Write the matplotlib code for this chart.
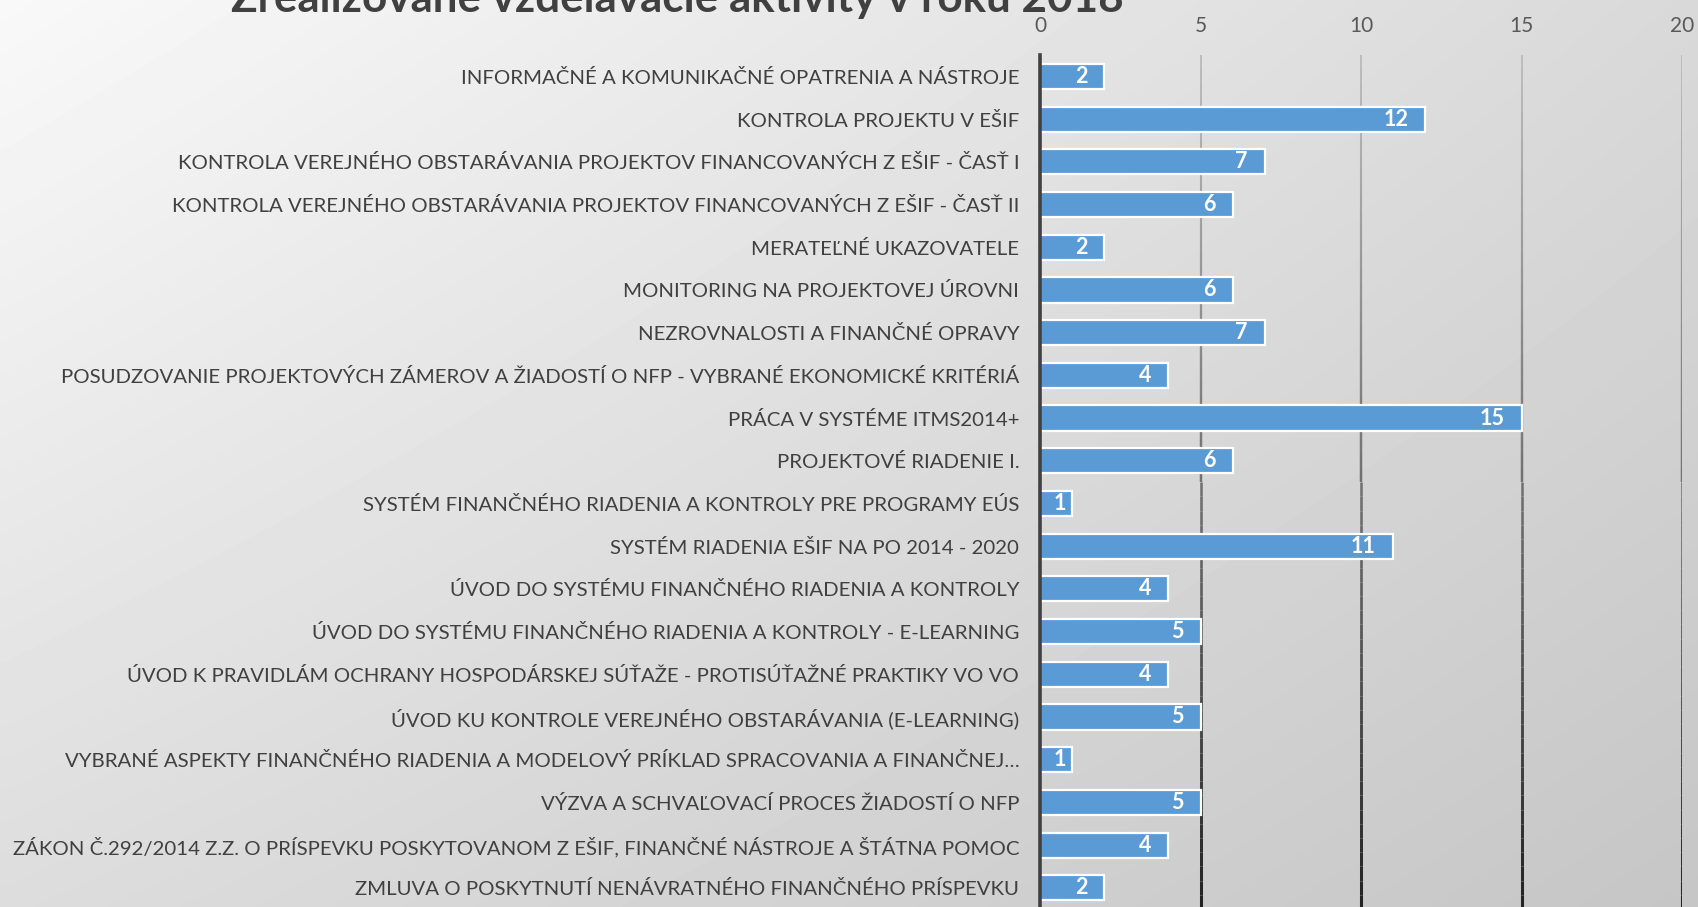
import numpy as np
import matplotlib
matplotlib.use('Agg')
import matplotlib.pyplot as plt
from matplotlib.collections import LineCollection

title = "Zrealizované vzdelávacie aktivity v roku 2018"
categories = [
    "INFORMAČNÉ A KOMUNIKAČNÉ OPATRENIA A NÁSTROJE",
    "KONTROLA PROJEKTU V EŠIF",
    "KONTROLA VEREJNÉHO OBSTARÁVANIA PROJEKTOV FINANCOVANÝCH Z EŠIF - ČASŤ I",
    "KONTROLA VEREJNÉHO OBSTARÁVANIA PROJEKTOV FINANCOVANÝCH Z EŠIF - ČASŤ II",
    "MERATEĽNÉ UKAZOVATELE",
    "MONITORING NA PROJEKTOVEJ ÚROVNI",
    "NEZROVNALOSTI A FINANČNÉ OPRAVY",
    "POSUDZOVANIE PROJEKTOVÝCH ZÁMEROV A ŽIADOSTÍ O NFP - VYBRANÉ EKONOMICKÉ KRITÉRIÁ",
    "PRÁCA V SYSTÉME ITMS2014+",
    "PROJEKTOVÉ RIADENIE I.",
    "SYSTÉM FINANČNÉHO RIADENIA A KONTROLY PRE PROGRAMY EÚS",
    "SYSTÉM RIADENIA EŠIF NA PO 2014 - 2020",
    "ÚVOD DO SYSTÉMU FINANČNÉHO RIADENIA A KONTROLY",
    "ÚVOD DO SYSTÉMU FINANČNÉHO RIADENIA A KONTROLY - E-LEARNING",
    "ÚVOD K PRAVIDLÁM OCHRANY HOSPODÁRSKEJ SÚŤAŽE - PROTISÚŤAŽNÉ PRAKTIKY VO VO",
    "ÚVOD KU KONTROLE VEREJNÉHO OBSTARÁVANIA (E-LEARNING)",
    "VYBRANÉ ASPEKTY FINANČNÉHO RIADENIA A MODELOVÝ PRÍKLAD SPRACOVANIA A FINANČNEJ…",
    "VÝZVA A SCHVAĽOVACÍ PROCES ŽIADOSTÍ O NFP",
    "ZÁKON Č.292/2014 Z.Z. O PRÍSPEVKU POSKYTOVANOM Z EŠIF, FINANČNÉ NÁSTROJE A ŠTÁTNA POMOC",
    "ZMLUVA O POSKYTNUTÍ NENÁVRATNÉHO FINANČNÉHO PRÍSPEVKU",
]
values = [2, 12, 7, 6, 2, 6, 7, 4, 15, 6, 1, 11, 4, 5, 4, 5, 1, 5, 4, 2]
xticks = [0, 5, 10, 15, 20]

plt.rcParams['font.family'] = ['Lato', 'DejaVu Sans']

W, H = 1698, 907
fig = plt.figure(figsize=(W / 100, H / 100), dpi=100)

# background gradient (light top-left to grey bottom-right)
bg = fig.add_axes([0, 0, 1, 1], zorder=-10)
gx = np.linspace(0, 1, 300)
gy = np.linspace(0, 1, 200)
X, Y = np.meshgrid(gx, gy)
tl, tr, bl, br = 0.975, 0.85, 0.865, 0.775
grad = tl * (1 - X) * (1 - Y) + tr * X * (1 - Y) + bl * (1 - X) * Y + br * X * Y
bg.imshow(grad, cmap='gray', vmin=0, vmax=1, extent=[0, 1, 1, 0], aspect='auto',
          interpolation='bilinear')
bg.set_xlim(0, 1)
bg.set_ylim(1, 0)
bg.axis('off')

ax = fig.add_axes([1040 / W, -0.0024, 642 / W, 0.9417])
ax.patch.set_alpha(0)
n = len(categories)
ypos = np.arange(n)
bars = ax.barh(ypos, values, height=0.59, color='#5B9BD5', edgecolor='white',
               linewidth=1.6, zorder=3)
ax.set_ylim(n - 0.5, -0.5)
ax.set_xlim(xticks[0], xticks[-1])
ax.xaxis.tick_top()
ax.set_xticks(xticks)
ax.tick_params(axis='x', length=0, pad=13.5, labelsize=15, labelcolor='#595959')
ax.set_yticks(ypos, categories)
ax.tick_params(axis='y', length=0, pad=15, labelsize=14.7, labelcolor='#404040')
for s in ['top', 'right', 'bottom']:
    ax.spines[s].set_visible(False)
ax.spines['left'].set_color('#404040')
ax.spines['left'].set_linewidth(2.6)
ax.spines['left'].set_zorder(5)

# gridlines with vertical shading
nseg = 60
ys = np.linspace(-0.5, n - 0.5, nseg + 1)
for t in xticks[1:]:
    segs = [[(t, ys[i]), (t, ys[i + 1])] for i in range(nseg)]
    frac = np.linspace(0, 1, nseg)
    g = 0.74 - 0.6 * frac
    cols = [(v, v, v) for v in g]
    lc = LineCollection(segs, colors=cols, linewidths=np.linspace(1.4, 2.2, nseg), zorder=1)
    ax.add_collection(lc)

# data labels: inside end, pulled toward the centre for very short bars
for yy, v in zip(ypos, values):
    xr = max(v - 0.53, v / 2 + 0.32)
    ax.text(xr, yy, str(v), ha='right', va='center', color='white', fontsize=15.5,
            fontweight='bold', zorder=6)

fig.text(677 / W, 1 - 12 / H, title, ha='center', va='baseline', fontsize=31.7,
         fontweight='bold', color='#404040')

fig.savefig('out.png', dpi=100)
